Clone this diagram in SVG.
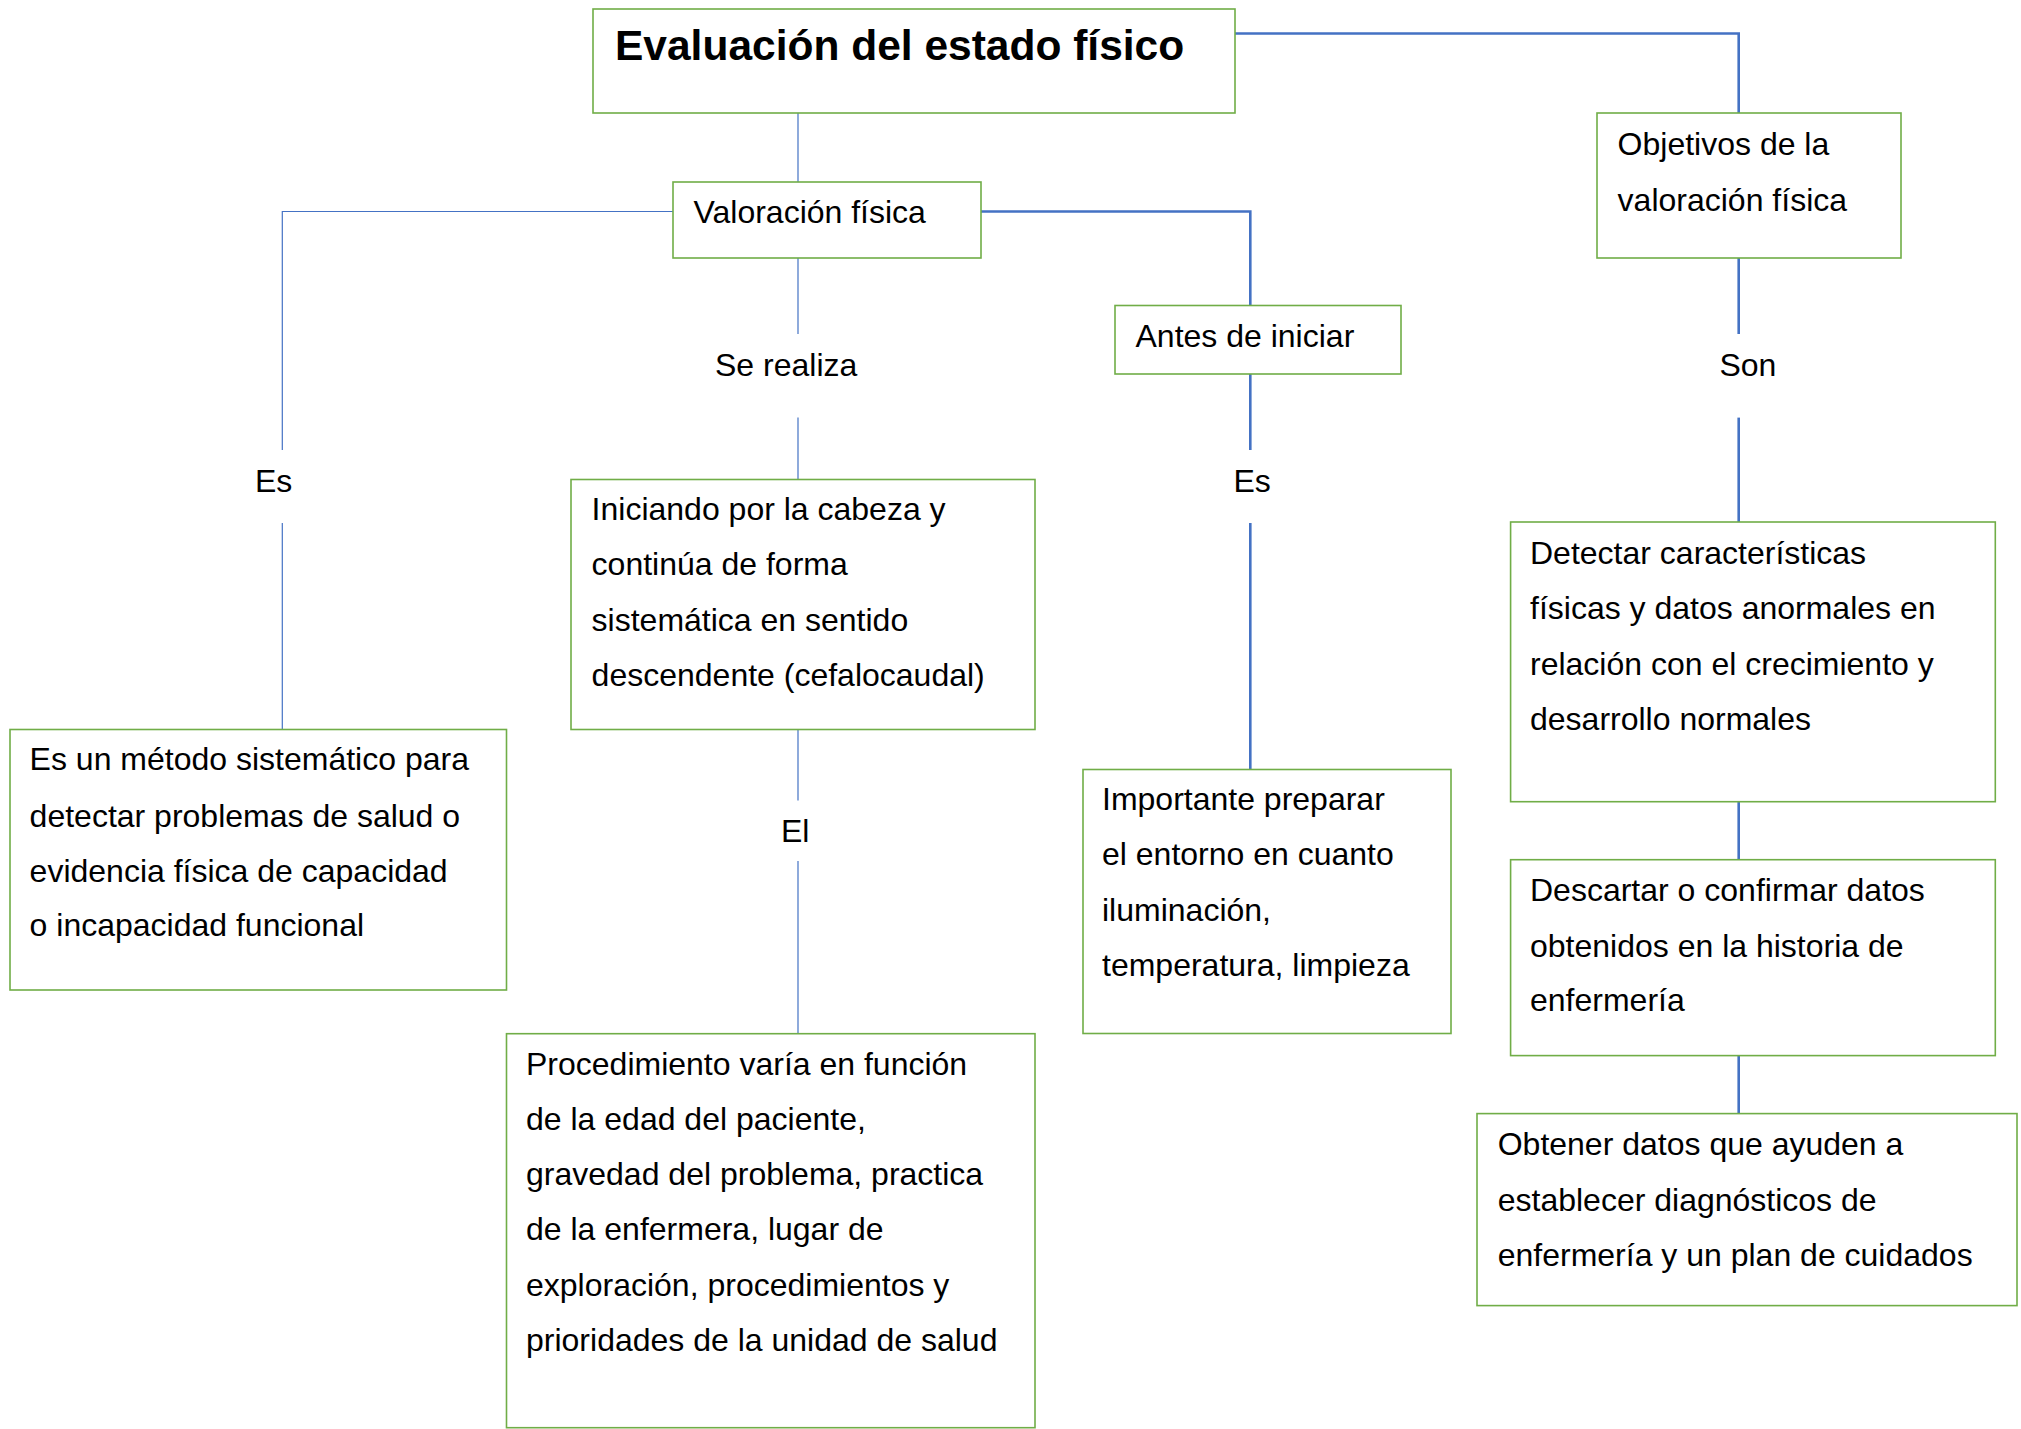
<svg xmlns="http://www.w3.org/2000/svg" width="2021" height="1429" viewBox="0 0 2021 1429">
<style>
.box{fill:#fff;stroke:#70AD47;stroke-width:1.6}
.t{font-family:"Liberation Sans",Arial,sans-serif;font-size:32px;fill:#000}
.title{font-family:"Liberation Sans",Arial,sans-serif;font-size:42.5px;font-weight:bold;fill:#000}
.thin{fill:none;stroke:#4472C4;stroke-width:1.2}
.thick{fill:none;stroke:#4472C4;stroke-width:2.6}
</style>
<rect width="2021" height="1429" fill="#fff"/>
<g id="connectors">
<path class="thin" d="M798 113V182"/>
<path class="thick" d="M1235 33.5H1738.7V113"/>
<path class="thin" d="M673 211.5H282.3V450"/>
<path class="thin" d="M282.3 523V729.5"/>
<path class="thick" d="M981 211.5H1250.3V305.5"/>
<path class="thin" d="M798 258V334"/>
<path class="thin" d="M798 417.6V479.5"/>
<path class="thin" d="M798 729.5V800.5"/>
<path class="thin" d="M798 861V1033.7"/>
<path class="thick" d="M1250.3 374V450"/>
<path class="thick" d="M1250.3 523V769.5"/>
<path class="thick" d="M1738.7 258V334"/>
<path class="thick" d="M1738.7 417.6V522"/>
<path class="thick" d="M1738.7 801.7V859.7"/>
<path class="thick" d="M1738.7 1055.6V1113.6"/>
<text class="t" x="715" y="375.5">Se realiza</text>
<text class="t" x="1719.4" y="375.5">Son</text>
<text class="t" x="255" y="491.5">Es</text>
<text class="t" x="1233.5" y="491.5">Es</text>
<text class="t" x="781" y="842">El</text>
</g>
<g id="n-title">
<rect class="box" x="593" y="9" width="642" height="104"/>
<text class="title" x="615" y="59.5">Evaluación del estado físico</text>
</g>
<g id="n-valoracion">
<rect class="box" x="673" y="182" width="308" height="76"/>
<text class="t" x="693.5" y="223">Valoración física</text>
</g>
<g id="n-objetivos">
<rect class="box" x="1597" y="113" width="304" height="145"/>
<text class="t" x="1617.6" y="155">Objetivos de la</text>
<text class="t" x="1617.6" y="210.5">valoración física</text>
</g>
<g id="n-antes">
<rect class="box" x="1115" y="305.5" width="286" height="68.5"/>
<text class="t" x="1135.5" y="347">Antes de iniciar</text>
</g>
<g id="n-es-metodo">
<rect class="box" x="10" y="729.5" width="496.5" height="260.5"/>
<text class="t" x="29.6" y="770">Es un método sistemático para</text>
<text class="t" x="29.6" y="826.6">detectar problemas de salud o</text>
<text class="t" x="29.6" y="882">evidencia física de capacidad</text>
<text class="t" x="29.6" y="936">o incapacidad funcional</text>
</g>
<g id="n-iniciando">
<rect class="box" x="571" y="479.5" width="464" height="250"/>
<text class="t" x="591.6" y="520">Iniciando por la cabeza y</text>
<text class="t" x="591.6" y="575">continúa de forma</text>
<text class="t" x="591.6" y="630.7">sistemática en sentido</text>
<text class="t" x="591.6" y="686">descendente (cefalocaudal)</text>
</g>
<g id="n-importante">
<rect class="box" x="1083" y="769.5" width="368" height="264"/>
<text class="t" x="1102" y="810">Importante preparar</text>
<text class="t" x="1102" y="865">el entorno en cuanto</text>
<text class="t" x="1102" y="920.7">iluminación,</text>
<text class="t" x="1102" y="976">temperatura, limpieza</text>
</g>
<g id="n-procedimiento">
<rect class="box" x="506.5" y="1033.7" width="528.5" height="394"/>
<text class="t" x="526" y="1075">Procedimiento varía en función</text>
<text class="t" x="526" y="1129.5">de la edad del paciente,</text>
<text class="t" x="526" y="1185">gravedad del problema, practica</text>
<text class="t" x="526" y="1240">de la enfermera, lugar de</text>
<text class="t" x="526" y="1295.8">exploración, procedimientos y</text>
<text class="t" x="526" y="1351">prioridades de la unidad de salud</text>
</g>
<g id="n-detectar">
<rect class="box" x="1510.6" y="522" width="484.7" height="279.7"/>
<text class="t" x="1530" y="563.7">Detectar características</text>
<text class="t" x="1530" y="619">físicas y datos anormales en</text>
<text class="t" x="1530" y="674.5">relación con el crecimiento y</text>
<text class="t" x="1530" y="730">desarrollo normales</text>
</g>
<g id="n-descartar">
<rect class="box" x="1510.6" y="859.7" width="484.7" height="195.9"/>
<text class="t" x="1530" y="901">Descartar o confirmar datos</text>
<text class="t" x="1530" y="957">obtenidos en la historia de</text>
<text class="t" x="1530" y="1011">enfermería</text>
</g>
<g id="n-obtener">
<rect class="box" x="1477" y="1113.6" width="540" height="192"/>
<text class="t" x="1497.7" y="1155">Obtener datos que ayuden a</text>
<text class="t" x="1497.7" y="1211">establecer diagnósticos de</text>
<text class="t" x="1497.7" y="1266">enfermería y un plan de cuidados</text>
</g>
</svg>
